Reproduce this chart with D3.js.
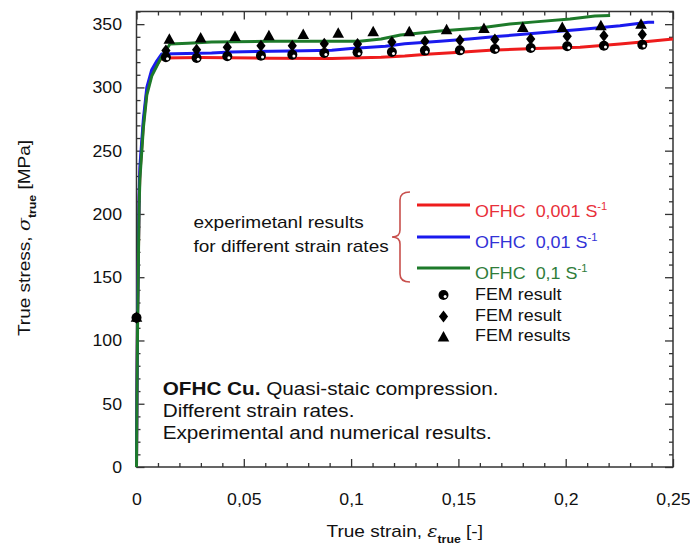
<!DOCTYPE html>
<html><head><meta charset="utf-8">
<script src="https://cdn.jsdelivr.net/npm/d3@7"></script>
<style>
html,body{margin:0;padding:0;background:#fff;}
svg{display:block;font-family:"Liberation Sans",Arial,sans-serif;}
text{white-space:pre;}
</style></head><body>
<svg id="c" width="690" height="552"></svg>
<script>
// ---------- data ----------
const xTicks = [0, 0.05, 0.1, 0.15, 0.2, 0.25];
const xTickLabels = ["0", "0,05", "0,1", "0,15", "0,2", "0,25"];
const yTicks = [0, 50, 100, 150, 200, 250, 300, 350];
const yTickLabels = ["0", "50", "100", "150", "200", "250", "300", "350"];

const red001 = [[0,0],[0.0002,55],[0.0005,120],[0.0008,155],[0.0012,210],[0.0016,232],[0.0032,271],[0.0048,297],[0.0071,311],[0.0095,318],[0.0117,323.3],[0.03,323.6],[0.062,323.1],[0.091,322.8],[0.114,323.8],[0.125,324.8],[0.137,326.4],[0.1507,327.8],[0.1647,329.3],[0.1857,330.8],[0.2067,331.8],[0.2253,334.3],[0.2393,336.4],[0.25,338.3]];
const blue01 = [[0,0],[0.0002,55],[0.0005,120],[0.0008,160],[0.0012,215],[0.0016,238],[0.0032,275],[0.0048,300],[0.0071,314],[0.0095,321],[0.0117,326.4],[0.035,327.2],[0.044,328],[0.0715,328.8],[0.091,329.3],[0.1,330.7],[0.116,332.5],[0.125,334.5],[0.1414,336.4],[0.155,338.3],[0.169,340.4],[0.1857,342.8],[0.2067,345.7],[0.2253,348.8],[0.2384,351.5],[0.2412,351.5]];
const green1 = [[0,0],[0.0002,50],[0.0005,110],[0.0008,150],[0.0012,205],[0.0016,228],[0.0032,268],[0.0048,294],[0.0071,309],[0.011,322],[0.0156,334.3],[0.024,335],[0.035,335.8],[0.062,336.4],[0.104,336.4],[0.114,338.3],[0.123,341.5],[0.1414,344.5],[0.16,347],[0.174,350.2],[0.1857,351.8],[0.202,354.1],[0.2136,356.5],[0.2207,356.8]];

const femCircle = [[0,118],[0.0137,323.8],[0.028,323.3],[0.0423,324.6],[0.058,325.1],[0.0726,325.9],[0.0875,327.2],[0.103,327.7],[0.119,328],[0.1344,329.1],[0.1507,329.3],[0.167,330.4],[0.1837,331.2],[0.2007,332.5],[0.2178,333],[0.2357,333.8]];
const femDiamond = [[0,118],[0.0137,329.1],[0.028,329.8],[0.0423,331.8],[0.058,333],[0.0726,333],[0.0875,334.6],[0.103,334.3],[0.119,335.8],[0.1344,336.4],[0.1507,337.2],[0.167,337.8],[0.1837,338.3],[0.2007,340.4],[0.2178,340.9],[0.2357,341.8]];
const femTriangle = [[0,118],[0.0153,337.7],[0.0299,338.6],[0.0459,339.9],[0.0617,340.4],[0.0777,341.5],[0.094,342.5],[0.1103,343.6],[0.1271,343.6],[0.1445,345.1],[0.1619,346.2],[0.18,347],[0.1984,347],[0.2164,348.3],[0.2351,349.6]];

const lineNames = ["OFHC  0,001 S", "OFHC  0,01 S", "OFHC  0,1 S"];
const femNames = ["FEM result", "FEM result", "FEM results"];
const noteLines = ["Different strain rates.", "Experimental and numerical results."];

// ---------- layout ----------
const W = 690, H = 552;
const m = {l: 136.5, r: 17, t: 11.5, b: 85};
const S = 1.12; // horizontal text stretch
const ST = 1.04; // tick label stretch
const FONT = '"Liberation Sans", Arial, sans-serif';
const cRed = "#ee1c1c", cBlue = "#1a1aee", cGreen = "#1d7a2a";
const tRed = "#e8303a", tBlue = "#3232d6", tGreen = "#2f7d3a";

const svg = d3.select("#c");
const x = d3.scaleLinear().domain([0, 0.25]).range([m.l, W - m.r]);
const y = d3.scaleLinear().domain([0, 360]).range([H - m.b, m.t]);

const minorX = d3.range(0, 0.2501, 0.01).map(v => +v.toFixed(3)).filter(v => !xTicks.some(t => Math.abs(t - v) < 1e-9));
const minorY = d3.range(0, 361, 10).filter(v => v % 50 !== 0);

function styleAxis(g) {
  g.select(".domain").remove();
  g.selectAll(".tick line").attr("stroke", "#333").attr("stroke-width", 1.3);
}
const MAJ = 8, MIN = 4;
const y0 = H - m.b, x1 = W - m.r;

// bottom
svg.append("g").attr("transform", `translate(0,${y0})`)
  .call(d3.axisBottom(x).tickValues(xTicks).tickSize(-MAJ).tickSizeOuter(0).tickPadding(26).tickFormat((d, i) => xTickLabels[i]))
  .call(styleAxis)
  .call(g => g.selectAll(".tick text").attr("font-size", 17).attr("font-family", FONT).attr("fill", "#111")
    .attr("transform", `scale(${ST},1)`));
svg.append("g").attr("transform", `translate(0,${y0})`)
  .call(d3.axisBottom(x).tickValues(minorX).tickSize(-MIN).tickSizeOuter(0).tickFormat(""))
  .call(styleAxis);
// top
svg.append("g").attr("transform", `translate(0,${m.t})`)
  .call(d3.axisTop(x).tickValues(xTicks).tickSize(-MAJ).tickSizeOuter(0).tickFormat(""))
  .call(styleAxis);
svg.append("g").attr("transform", `translate(0,${m.t})`)
  .call(d3.axisTop(x).tickValues(minorX).tickSize(-MIN).tickSizeOuter(0).tickFormat(""))
  .call(styleAxis);
// left
svg.append("g").attr("transform", `translate(${m.l},0)`)
  .call(d3.axisLeft(y).tickValues(yTicks).tickSize(-MAJ).tickSizeOuter(0).tickPadding(14.5).tickFormat((d, i) => yTickLabels[i]))
  .call(styleAxis)
  .call(g => g.selectAll(".tick text").attr("font-size", 17).attr("font-family", FONT).attr("fill", "#111")
    .attr("x", -14.5 / ST).attr("transform", `scale(${ST},1)`));
svg.append("g").attr("transform", `translate(${m.l},0)`)
  .call(d3.axisLeft(y).tickValues(minorY).tickSize(-MIN).tickSizeOuter(0).tickFormat(""))
  .call(styleAxis);
// right
svg.append("g").attr("transform", `translate(${x1},0)`)
  .call(d3.axisRight(y).tickValues(yTicks).tickSize(-MAJ).tickSizeOuter(0).tickFormat(""))
  .call(styleAxis);
svg.append("g").attr("transform", `translate(${x1},0)`)
  .call(d3.axisRight(y).tickValues(minorY).tickSize(-MIN).tickSizeOuter(0).tickFormat(""))
  .call(styleAxis);

// frame
svg.append("rect").attr("x", m.l).attr("y", m.t).attr("width", x1 - m.l).attr("height", y0 - m.t)
  .attr("fill", "none").attr("stroke", "#333").attr("stroke-width", 1.5);

// ---------- lines ----------
const line = d3.line().x(d => x(d[0])).y(d => y(d[1]));
[[red001, cRed], [blue01, cBlue], [green1, cGreen]].forEach(([data, col]) => {
  svg.append("path").datum(data).attr("d", line).attr("fill", "none")
    .attr("stroke", col).attr("stroke-width", 3).attr("stroke-linejoin", "round");
});

// ---------- markers ----------
const diamondType = {draw(ctx, size) { const w = 4.6, h = 6; ctx.moveTo(0, -h); ctx.lineTo(w, 0); ctx.lineTo(0, h); ctx.lineTo(-w, 0); ctx.closePath(); }};
const triType = {draw(ctx, size) { ctx.moveTo(0, -6.5); ctx.lineTo(5.8, 4); ctx.lineTo(-5.8, 4); ctx.closePath(); }};

function drawCircle(g, cx, cy) {
  g.append("circle").attr("cx", cx).attr("cy", cy).attr("r", 5).attr("fill", "#000");
  g.append("circle").attr("cx", cx + 1.6).attr("cy", cy + 1.4).attr("r", 1.5).attr("fill", "#fff");
}
const mk = svg.append("g");
femCircle.forEach(d => drawCircle(mk, x(d[0]), y(d[1])));
mk.selectAll(".dia").data(femDiamond).join("path").attr("class", "dia")
  .attr("transform", d => `translate(${x(d[0])},${y(d[1])})`).attr("d", d3.symbol().type(diamondType)).attr("fill", "#000");
mk.selectAll(".tri").data(femTriangle).join("path").attr("class", "tri")
  .attr("transform", d => `translate(${x(d[0])},${y(d[1])})`).attr("d", d3.symbol().type(triType)).attr("fill", "#000");

// ---------- text helper ----------
function stext(px, py, size, opts = {}) {
  const t = svg.append("text")
    .attr("transform", `translate(${px},${py})${opts.rotate ? ` rotate(${opts.rotate})` : ""} scale(${opts.s || S},1)`)
    .attr("font-size", size).attr("font-family", FONT).attr("fill", opts.fill || "#111")
    .attr("text-anchor", opts.anchor || "start");
  return t;
}

// axis titles
{
  const t = stext((m.l + x1) / 2, 537, 17, {anchor: "middle"});
  t.append("tspan").text("True strain, ");
  t.append("tspan").text("ε").attr("font-style", "italic").attr("font-family", '"DejaVu Serif", serif');
  t.append("tspan").text("true").attr("font-size", 11).attr("font-weight", "bold").attr("dy", 6);
  t.append("tspan").text(" [-]").attr("dy", -6);
}
{
  const t = stext(30, 238, 17, {anchor: "middle", rotate: -90});
  t.append("tspan").text("True stress, ");
  t.append("tspan").text("σ").attr("font-style", "italic").attr("font-family", '"DejaVu Serif", serif');
  t.append("tspan").text("true").attr("font-size", 11).attr("font-weight", "bold").attr("dy", 6);
  t.append("tspan").text(" [MPa]").attr("dy", -6);
}

// ---------- legend ----------
const legCols = [cRed, cBlue, cGreen], legTxt = [tRed, tBlue, tGreen];
const legLineY = [205, 237, 268], legTextY = [217, 248, 279];
lineNames.forEach((nm, i) => {
  svg.append("line").attr("x1", 417).attr("x2", 470).attr("y1", legLineY[i]).attr("y2", legLineY[i])
    .attr("stroke", legCols[i]).attr("stroke-width", 3);
  const t = stext(475, legTextY[i], 16, {fill: legTxt[i]});
  t.append("tspan").text(nm);
  t.append("tspan").text("-1").attr("font-size", 10).attr("dy", -7);
});
// bracket
svg.append("path")
  .attr("d", "M410,192 Q400,192 400,200 L400,230 Q400,237 392,237 Q400,237 400,244 L400,274 Q400,282 410,282")
  .attr("fill", "none").attr("stroke", "#c8504d").attr("stroke-width", 1.6);
stext(193.5, 228, 17).text("experimetanl results");
stext(193.5, 251.5, 17).text("for different strain rates");

// marker legend
drawCircle(svg, 443.5, 295);
svg.append("path").attr("transform", "translate(443.5,316.5)").attr("d", d3.symbol().type(diamondType)).attr("fill", "#000");
svg.append("path").attr("transform", "translate(443.5,337.5)").attr("d", d3.symbol().type(triType)).attr("fill", "#000");
const femY = [300, 320.5, 341];
femNames.forEach((nm, i) => stext(475, femY[i], 16).text(nm));

// ---------- note ----------
{
  const t = stext(162.7, 395, 18.5);
  t.append("tspan").text("OFHC Cu.").attr("font-weight", "bold");
  t.append("tspan").text(" Quasi-staic compression.");
  stext(162.7, 417, 18.5).text(noteLines[0]);
  stext(162.7, 439, 18.5).text(noteLines[1]);
}
</script>
</body></html>
